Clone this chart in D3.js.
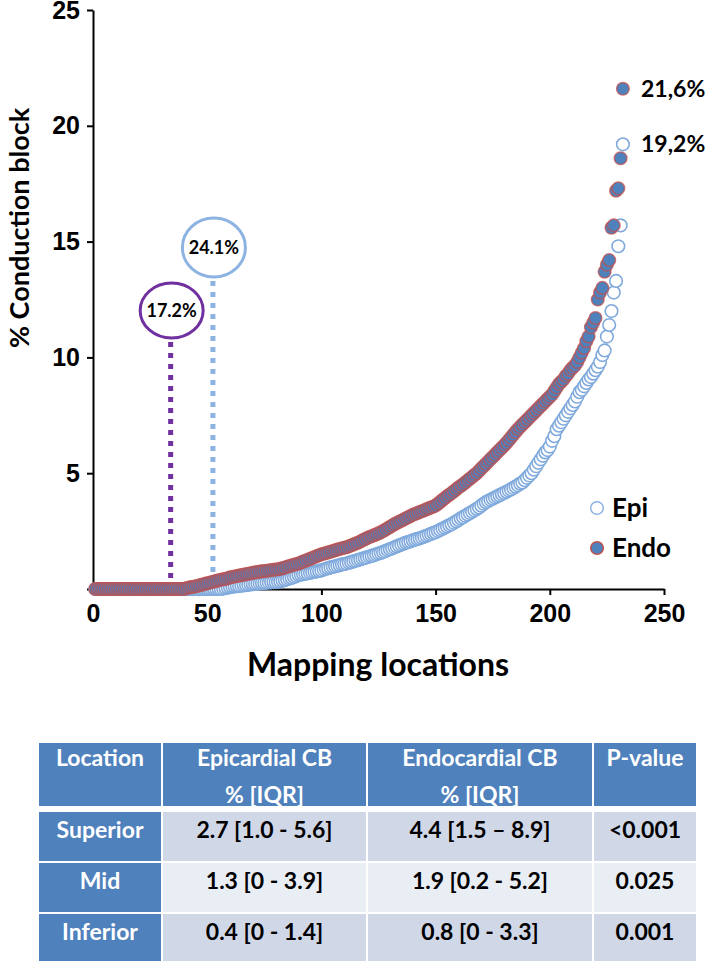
<!DOCTYPE html>
<html>
<head>
<meta charset="utf-8">
<script src="https://cdn.jsdelivr.net/npm/d3@7"></script>
<style>
	body { margin: 0; background: #fff; }
	svg { display: block; font-family: Lato, "Open Sans", sans-serif; font-weight: bold; }
</style>
</head>
<body>
<script>
// sorted % conduction block per mapping location
var endoValues = [
	0,0,0,0,0,0,0,0,0,0, 0,0,0,0,0,0,0,0,0,0, 0,0,0,0,0,0,0,0,0,0, 0,0,0,0,0,0,0,0,0,0,
	0.04,0.06,0.08,0.1,0.12,0.14,0.17,0.19,0.22,0.25,
	0.27,0.3,0.32,0.35,0.38,0.4,0.42,0.44,0.46,0.5,
	0.52,0.54,0.56,0.58,0.6,0.62,0.64,0.66,0.68,0.7,
	0.72,0.73,0.75,0.76,0.78,0.79,0.8,0.82,0.83,0.84,
	0.85,0.87,0.9,0.93,0.96,0.99,1.02,1.05,1.08,1.1,
	1.14,1.18,1.22,1.26,1.3,1.34,1.38,1.42,1.46,1.5,
	1.52,1.55,1.58,1.61,1.64,1.67,1.7,1.73,1.76,1.78,
	1.8,1.84,1.88,1.92,1.96,2.0,2.05,2.1,2.15,2.2,
	2.24,2.28,2.32,2.36,2.4,2.45,2.5,2.56,2.62,2.68,
	2.74,2.8,2.85,2.9,2.95,3.0,3.05,3.1,3.15,3.2,
	3.24,3.28,3.32,3.36,3.4,3.44,3.48,3.52,3.56,3.6,
	3.68,3.76,3.84,3.92,4.0,4.07,4.14,4.22,4.3,4.38,
	4.45,4.52,4.6,4.68,4.76,4.84,4.92,5.0,5.1,5.2,
	5.3,5.4,5.5,5.6,5.7,5.8,5.9,6.0,6.1,6.2,
	6.3,6.42,6.54,6.66,6.78,6.9,7.0,7.1,7.2,7.3,
	7.4,7.5,7.6,7.7,7.8,7.9,8.0,8.1,8.2,8.3,
	8.4,8.55,8.7,8.85,8.95,9.05,9.2,9.3,9.45,9.55,
	9.65,9.8,10.0,10.2,10.4,10.7,10.9,11.3,11.5,11.7,
	12.5,12.8,13.0,13.7,14.0,14.2,15.6,15.7,17.2,17.3,18.6,21.6
];

var epiValues = [
	0,0,0,0,0,0,0,0,0,0, 0,0,0,0,0,0,0,0,0,0, 0,0,0,0,0,0,0,0,0,0,
	0,0,0,0,0,0,0,0,0,0, 0,0,0,0,0,0,0,0,0,0, 0,0,0,0,0,0,
	0.02,0.04,0.06,0.08,
	0.1,0.11,0.12,0.13,0.14,0.16,0.17,0.18,0.2,0.21,
	0.22,0.23,0.24,0.25,0.26,0.27,0.28,0.29,0.3,0.3,
	0.31,0.33,0.36,0.39,0.42,0.45,0.48,0.52,0.56,0.6,
	0.62,0.64,0.66,0.68,0.7,0.72,0.74,0.76,0.78,0.8,
	0.84,0.87,0.9,0.93,0.96,0.98,1.0,1.03,1.06,1.08,
	1.1,1.13,1.16,1.19,1.22,1.25,1.28,1.31,1.34,1.37,
	1.4,1.43,1.46,1.5,1.53,1.56,1.6,1.64,1.68,1.72,
	1.76,1.8,1.84,1.88,1.92,1.96,2.0,2.03,2.06,2.1,
	2.13,2.16,2.19,2.22,2.26,2.3,2.34,2.38,2.42,2.45,
	2.5,2.55,2.6,2.65,2.7,2.75,2.8,2.86,2.92,2.98,
	3.05,3.1,3.16,3.22,3.28,3.34,3.4,3.46,3.52,3.6,
	3.68,3.75,3.8,3.85,3.9,3.95,4.0,4.05,4.1,4.15,
	4.2,4.25,4.3,4.36,4.42,4.48,4.55,4.6,4.7,4.8,
	4.9,5.0,5.15,5.3,5.45,5.6,5.75,5.9,6.0,6.15,
	6.4,6.6,6.9,7.05,7.2,7.35,7.5,7.65,7.8,7.95,
	8.1,8.3,8.5,8.6,8.75,8.9,9.05,9.15,9.3,9.45,
	9.6,9.8,10.1,10.3,10.9,11.4,12.0,12.8,13.3,14.8,15.7,19.2
];

var xTicks = [0, 50, 100, 150, 200, 250];
var yTicks = [0, 5, 10, 15, 20, 25];

// % of locations with no block, marked by dotted lines
var markers = [
	{ x: 34, label: "17.2%", color: "#7030a0", cy: 310.5, ry: 27.5 },
	{ x: 52.5, label: "24.1%", color: "#8db3e2", cy: 247.5, ry: 29.5 }
];
var endLabels = [
	{ label: "21,6%", value: 21.6 },
	{ label: "19,2%", value: 19.2 }
];

var tableHeader = [["Location"], ["Epicardial CB", "% [IQR]"], ["Endocardial CB", "% [IQR]"], ["P-value"]];
var tableRows = [
	["Superior", "2.7 [1.0 - 5.6]", "4.4 [1.5 \u2013 8.9]", "<0.001"],
	["Mid", "1.3 [0 - 3.9]", "1.9 [0.2 - 5.2]", "0.025"],
	["Inferior", "0.4 [0 - 1.4]", "0.8 [0 - 3.3]", "0.001"]
];

var svg = d3.select("body").append("svg")
	.attr("width", 709)
	.attr("height", 962);

var x = d3.scaleLinear().domain([0, 250]).range([93, 664]);
var y = d3.scaleLinear().domain([0, 25]).range([589, 10]);

// axes
var xAxis = svg.append("g")
	.attr("transform", "translate(0," + y(0) + ")")
	.call(d3.axisBottom(x).tickValues(xTicks).tickSize(6).tickSizeOuter(0).tickPadding(9));
var yAxis = svg.append("g")
	.attr("transform", "translate(" + x(0) + ",0)")
	.call(d3.axisLeft(y).tickValues(yTicks).tickSize(6).tickSizeOuter(0).tickPadding(7)
		.tickFormat(function(d) { return d === 0 ? "" : d; }));

[xAxis, yAxis].forEach(function(a) {
	a.selectAll("path, line").attr("stroke", "#000").attr("stroke-width", 2);
	a.selectAll("text").attr("fill", "#000")
		.style("font-size", "25px").style("font-weight", "bold");
});
xAxis.selectAll("text").attr("dy", "0.72em");

svg.append("text")
	.attr("x", 378).attr("y", 676)
	.attr("text-anchor", "middle")
	.style("font-size", "32px")
	.text("Mapping locations");

svg.append("text")
	.attr("transform", "translate(29,228) rotate(-90)")
	.attr("text-anchor", "middle")
	.style("font-size", "27px")
	.text("% Conduction block");

// dotted markers with circled labels
markers.forEach(function(m) {
	svg.append("line")
		.attr("x1", x(m.x)).attr("x2", x(m.x))
		.attr("y1", m.cy + m.ry + 4).attr("y2", y(0) - 4)
		.attr("stroke", m.color)
		.attr("stroke-width", 5)
		.attr("stroke-dasharray", "5,6");
	svg.append("ellipse")
		.attr("cx", x(m.x) + 1).attr("cy", m.cy)
		.attr("rx", 31.5).attr("ry", m.ry)
		.attr("fill", "#fff")
		.attr("stroke", m.color)
		.attr("stroke-width", 3);
	svg.append("text")
		.attr("x", x(m.x) + 1).attr("y", m.cy + 6)
		.attr("text-anchor", "middle")
		.style("font-size", "18px")
		.text(m.label);
});

// points
var plot = svg.append("g");
plot.selectAll("circle.epi")
	.data(epiValues)
	.enter()
	.append("circle")
	.attr("class", "epi")
	.attr("cx", function(d, i) { return x(i + 1); })
	.attr("cy", function(d) { return y(d); })
	.attr("r", 6.3)
	.attr("fill", "#fff")
	.attr("stroke", "#7fa9dc")
	.attr("stroke-width", 1.6);

plot.selectAll("circle.endo")
	.data(endoValues)
	.enter()
	.append("circle")
	.attr("class", "endo")
	.attr("cx", function(d, i) { return x(i + 1); })
	.attr("cy", function(d) { return y(d); })
	.attr("r", 6.3)
	.attr("fill", "#4f81bd")
	.attr("stroke", "#c0504d")
	.attr("stroke-opacity", 0.75)
	.attr("stroke-width", 1.5);

endLabels.forEach(function(e) {
	svg.append("text")
		.attr("x", 641).attr("y", y(e.value) + 8)
		.style("font-size", "23px")
		.text(e.label);
});

// legend
var legend = [
	{ name: "Epi", fill: "#fff", stroke: "#8db3e2", cy: 508 },
	{ name: "Endo", fill: "#4f81bd", stroke: "#c0504d", cy: 548 }
];
legend.forEach(function(l) {
	svg.append("circle")
		.attr("cx", 597).attr("cy", l.cy).attr("r", 6.3)
		.attr("fill", l.fill).attr("stroke", l.stroke).attr("stroke-width", 1.5);
	svg.append("text")
		.attr("x", 612).attr("y", l.cy + 9)
		.style("font-size", "26px")
		.text(l.name);
});

// table
var colEdges = [38, 162, 367, 593, 697];
var rowEdges = [742, 811, 862, 913, 962];
var bodyFills = ["#d0d8e8", "#e9edf4", "#d0d8e8"];
var table = svg.append("g");

tableHeader.forEach(function(lines, c) {
	table.append("rect")
		.attr("x", colEdges[c]).attr("y", rowEdges[0])
		.attr("width", colEdges[c + 1] - colEdges[c]).attr("height", 65)
		.attr("fill", "#4f81bd").attr("stroke", "#fff").attr("stroke-width", 2);
	lines.forEach(function(t, k) {
		table.append("text")
			.attr("x", (colEdges[c] + colEdges[c + 1]) / 2)
			.attr("y", 766 + k * 37)
			.attr("text-anchor", "middle")
			.attr("fill", "#fff")
			.style("font-size", "23px")
			.text(t);
	});
});

tableRows.forEach(function(row, r) {
	row.forEach(function(t, c) {
		table.append("rect")
			.attr("x", colEdges[c]).attr("y", rowEdges[r + 1])
			.attr("width", colEdges[c + 1] - colEdges[c])
			.attr("height", rowEdges[r + 2] - rowEdges[r + 1])
			.attr("fill", c === 0 ? "#4f81bd" : bodyFills[r])
			.attr("stroke", "#fff").attr("stroke-width", 2);
		table.append("text")
			.attr("x", (colEdges[c] + colEdges[c + 1]) / 2)
			.attr("y", rowEdges[r + 1] + 27)
			.attr("text-anchor", "middle")
			.attr("fill", c === 0 ? "#fff" : "#000")
			.style("font-size", "23px")
			.text(t);
	});
});
</script>
</body>
</html>
